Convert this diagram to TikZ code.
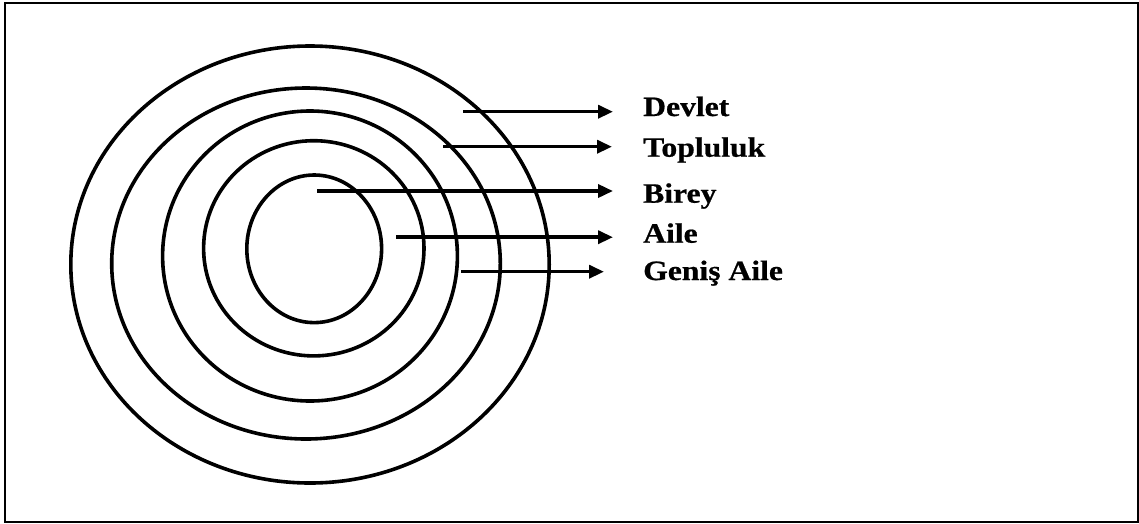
\documentclass[tikz,border=0pt]{standalone}
\usepackage{fontspec}
\setmainfont{Liberation Serif}[BoldFeatures={FakeBold=0.6}]
\usepackage{graphicx}
\usetikzlibrary{arrows.meta}
\begin{document}
\begin{tikzpicture}[x=1pt,y=-1pt,
  ring/.style={line width=3.6pt},
  arr/.style={line width=3.5pt,-{Triangle[length=15pt,width=13pt]}},
  lbl/.style={anchor=base west,inner sep=0pt,font=\fontsize{28}{30}\selectfont\bfseries}]
\useasboundingbox (0,0) rectangle (1139,523);
\draw[line width=2pt] (4.5,2.5) rectangle (1138,521.5);
% rings
\draw[ring] (310,264.5) ellipse [x radius=239.2, y radius=218.5];
\draw[ring] (306,263.5) ellipse [x radius=194.3, y radius=175.5];
\draw[ring] (310,256) ellipse [x radius=147.4, y radius=145];
\draw[ring] (313.8,248.3) ellipse [x radius=110.2, y radius=107.6];
\draw[ring] (314.2,248.8) ellipse [x radius=67.4, y radius=73.8];
% labels
\node[lbl] (devlet) at (643,116) {\scalebox{1.13}[1]{Devlet}};
\node[lbl] (topluluk) at (643,156.7) {\scalebox{1.13}[1]{Topluluk}};
\node[lbl] (birey) at (643,202.7) {\scalebox{1.13}[1]{Birey}};
\node[lbl] (aile) at (643,242.7) {\scalebox{1.13}[1]{Aile}};
\node[lbl] (genis) at (643,280) {\scalebox{1.13}[1]{Geniş Aile}};
% arrow ends
\coordinate (sD) at (463,111.7);   \coordinate (tD) at (613,111.7);
\coordinate (sT) at (443,146.7);   \coordinate (tT) at (612,146.7);
\coordinate (sB) at (317,191);     \coordinate (tB) at (613,191);
\coordinate (sA) at (396,237.2);   \coordinate (tA) at (613,237.2);
\coordinate (sG) at (461,271.7);   \coordinate (tG) at (604,271.7);
\draw[arr] (sD) -- (tD);
\draw[arr] (sT) -- (tT);
\draw[arr] (sB) -- (tB);
\draw[arr] (sA) -- (tA);
\draw[arr] (sG) -- (tG);
\end{tikzpicture}
\end{document}
